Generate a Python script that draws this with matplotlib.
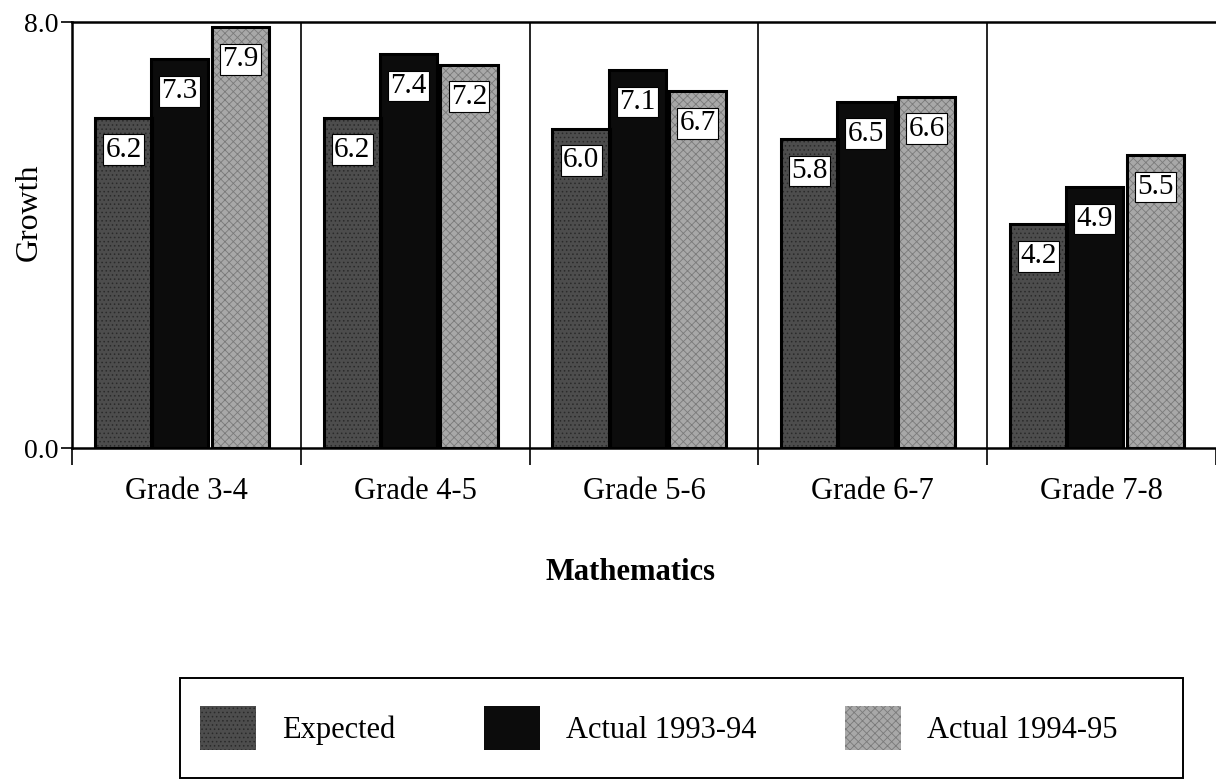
import matplotlib
matplotlib.use("Agg")
import matplotlib.pyplot as plt
from matplotlib.patches import Rectangle
import numpy as np

plt.rcParams['font.family'] = ['Liberation Serif', 'DejaVu Serif']
plt.rcParams['hatch.linewidth'] = 0.6

# data
grades = ['Grade 3-4', 'Grade 4-5', 'Grade 5-6', 'Grade 6-7', 'Grade 7-8']
expected = [6.2, 6.2, 6.0, 5.8, 4.2]
actual_9394 = [7.3, 7.4, 7.1, 6.5, 4.9]
actual_9495 = [7.9, 7.2, 6.7, 6.6, 5.5]

series = [
    ('Expected', expected, '#4d4d4d', '#2a2a2a', '....'),
    ('Actual 1993-94', actual_9394, '#0c0c0c', '#0c0c0c', None),
    ('Actual 1994-95', actual_9495, '#a8a8a8', '#7a7a7a', 'xxxx'),
]

W, H = 1216, 782
fig = plt.figure(figsize=(W / 100, H / 100), dpi=100)
ax = fig.add_axes([72 / W, 1 - 448 / H, 1 - 72 / W, 426 / H])

x = np.arange(len(grades))
width = 0.25
offsets = [-0.275, -0.03, 0.235]

for (name, vals, color, hcol, hatch), off in zip(series, offsets):
    ax.bar(x + off, vals, width, color=color, edgecolor=hcol,
           hatch=hatch, linewidth=0, label=name, zorder=3)
    # dark outline like the printed bars
    ax.bar(x + off, vals, width, fill=False, edgecolor='black',
           linewidth=2.2, zorder=4)
    for xi, v in zip(x + off, vals):
        ax.text(xi, v - 0.6, f'{v:.1f}', ha='center', va='center',
                fontsize=21, zorder=5,
                bbox=dict(boxstyle='square,pad=0.08', fc='white',
                          ec='black', lw=0.8))

# group dividers
for b in np.arange(0.5, len(grades) - 0.5, 1.0):
    ax.axvline(b, color='black', lw=1.2, zorder=1)

ax.set_xlim(-0.5, len(grades) - 0.5)
ax.set_ylim(0, 8)
ax.set_yticks([0, 8])
ax.set_yticklabels(['0.0', '8.0'], fontsize=20)
ax.set_xticks(np.arange(-0.5, len(grades), 1.0))
ax.set_xticklabels([])
ax.tick_params(axis='x', direction='out', length=12, width=1.2)
ax.tick_params(axis='y', direction='out', length=8, width=1.2, pad=2)
for i, g in enumerate(grades):
    ax.text(i, -0.82, g, ha='center', va='center', fontsize=22)

ax.spines['right'].set_visible(False)
for s in ['top', 'bottom', 'left']:
    ax.spines[s].set_linewidth(1.8)

fig.text(29 / W, 1 - 212 / H, 'Growth', rotation=90,
         ha='center', va='center', fontsize=23)

fig.text(630 / W, 1 - 573 / H, 'Mathematics', ha='center', va='center',
         fontsize=22, fontweight='bold')

# legend box drawn as its own frame, entries laid out by the legend
fig.patches.append(Rectangle((180 / W, 1 - 778 / H), 1003 / W, 100 / H,
                             transform=fig.transFigure, fill=False,
                             ec='black', lw=1.4))
fig.legend(loc='center', ncol=3, bbox_to_anchor=(659 / W, 1 - 728 / H),
           fontsize=22, frameon=False, handlelength=1.83,
           handleheight=1.8, handletextpad=0.85, columnspacing=2.9,
           borderpad=0)

fig.savefig('out.png', dpi=100)
